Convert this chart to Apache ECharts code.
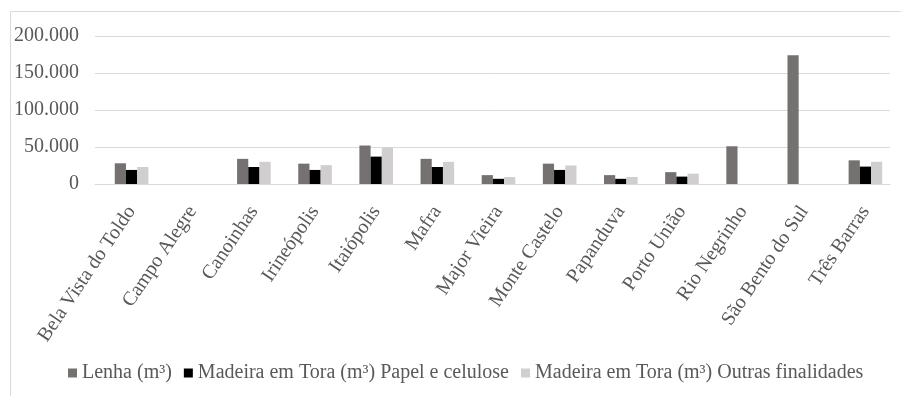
<!DOCTYPE html>
<html>
<head>
<meta charset="utf-8">
<title>Produção de madeira por município</title>
<script src="https://cdn.jsdelivr.net/npm/echarts@6/dist/echarts.min.js"></script>
<style>
  html, body { margin: 0; padding: 0; background: #ffffff; }
  #chart { width: 901px; height: 396px; }
</style>
</head>
<body>
<div id="chart"></div>
<script>
// Municípios
const categories = [
  'Bela Vista do Toldo', 'Campo Alegre', 'Canoinhas', 'Irineópolis', 'Itaiópolis',
  'Mafra', 'Major Vieira', 'Monte Castelo', 'Papanduva', 'Porto União',
  'Rio Negrinho', 'São Bento do Sul', 'Três Barras'
];

// Series names
const seriesNames = [
  'Lenha (m³)',
  'Madeira em Tora (m³) Papel e celulose',
  'Madeira em Tora (m³) Outras finalidades'
];

// Volumes (m³); null = sem produção
const lenha  = [28000, null, 34000, 27500, 52000, 34000, 12000, 27500, 12000, 16000, 51000, 174000, 32000];
const papel  = [19000, null, 23000, 19000, 37000, 23000,  7000, 19000,  7000, 10000,  null,   null, 23500];
const outras = [23000, null, 30000, 25500, 49000, 30000,  9500, 25000,  9500, 14000,  null,   null, 30000];

// Value axis ticks
const yTicks = [0, 50000, 100000, 150000, 200000];

const colors = ['#767171', '#000000', '#d0cece'];
const textColor = '#595959';
const serif = '"Liberation Serif", "Times New Roman", serif';

function fmtThousands(v) {
  return String(v).replace(/\B(?=(\d{3})+(?!\d))/g, '.');
}

const chart = echarts.init(document.getElementById('chart'), null, { renderer: 'canvas' });

const yMin = yTicks[0];
const yMax = yTicks[yTicks.length - 1];
const yStep = yTicks[1] - yTicks[0];

chart.setOption({
  animation: false,
  backgroundColor: '#ffffff',
  color: colors,
  textStyle: { fontFamily: serif },
  graphic: [{
    type: 'polyline',
    shape: { points: [[10.5, 396], [10.5, 11.5], [901, 11.5]] },
    style: { stroke: '#d9d9d9', lineWidth: 1, fill: null },
    silent: true
  }],
  grid: [
    // bars
    { left: 101, right: 5, top: 36, bottom: 212 },
    // gridlines and value labels
    { left: 95, right: 11, top: 36, bottom: 212 }
  ],
  xAxis: [
    {
      gridIndex: 0,
      type: 'category',
      data: categories,
      axisLine: { show: false },
      axisTick: { show: false },
      axisLabel: {
        rotate: 56,
        margin: 24,
        interval: 0,
        color: textColor,
        fontFamily: serif,
        fontSize: 20
      }
    },
    {
      gridIndex: 1,
      type: 'category',
      data: categories,
      axisLine: { show: true, lineStyle: { color: '#d9d9d9', width: 1 } },
      axisTick: { show: false },
      axisLabel: { show: false }
    }
  ],
  yAxis: [
    {
      gridIndex: 0,
      type: 'value',
      min: yMin, max: yMax, interval: yStep,
      axisLine: { show: false },
      axisTick: { show: false },
      axisLabel: { show: false },
      splitLine: { show: false }
    },
    {
      gridIndex: 1,
      type: 'value',
      min: yMin, max: yMax, interval: yStep,
      axisLine: { show: false },
      axisTick: { show: false },
      splitLine: { show: true, lineStyle: { color: '#d9d9d9', width: 1 } },
      axisLabel: {
        margin: 16,
        color: textColor,
        fontFamily: serif,
        fontSize: 20,
        formatter: fmtThousands
      }
    }
  ],
  legend: {
    data: seriesNames,
    left: 63,
    top: 358,
    icon: 'rect',
    itemWidth: 9,
    itemHeight: 9,
    itemGap: 12,
    textStyle: { color: textColor, fontFamily: serif, fontSize: 20 }
  },
  series: [
    { name: seriesNames[0], type: 'bar', xAxisIndex: 0, yAxisIndex: 0, data: lenha,  barWidth: 11.2, barGap: '0%' },
    { name: seriesNames[1], type: 'bar', xAxisIndex: 0, yAxisIndex: 0, data: papel,  barWidth: 11.2, barGap: '0%' },
    { name: seriesNames[2], type: 'bar', xAxisIndex: 0, yAxisIndex: 0, data: outras, barWidth: 11.2, barGap: '0%' }
  ]
});
</script>
</body>
</html>
